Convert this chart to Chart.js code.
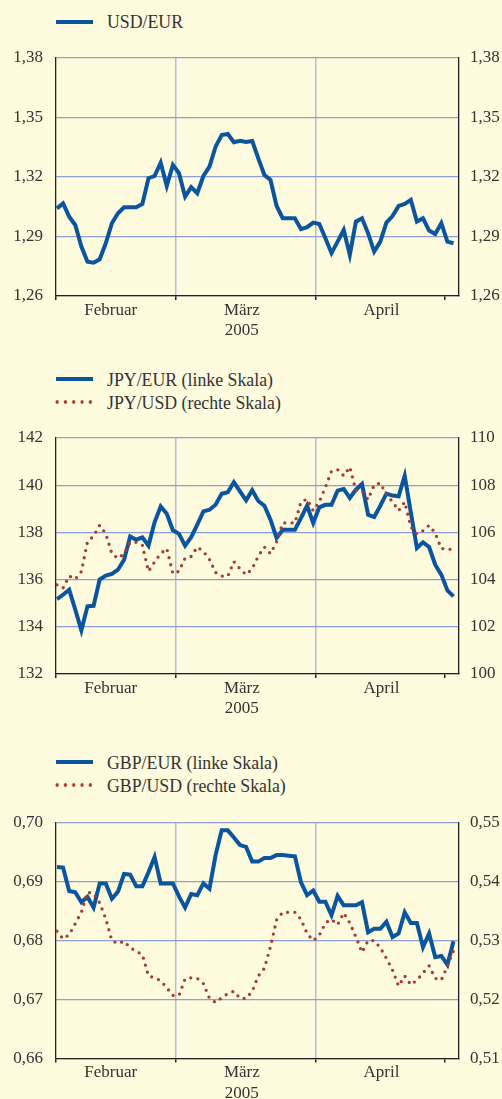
<!DOCTYPE html>
<html>
<head>
<meta charset="utf-8">
<script src="https://cdn.jsdelivr.net/npm/chart.js@4.4.1/dist/chart.umd.min.js"></script>
<style>
    body {
        margin: 0;
        width: 502px;
        height: 1099px;
        position: relative;
        overflow: hidden;
        background: #fffbde;
        font-family: 'Liberation Serif', serif;
        color: #333;
    }
    canvas { position: absolute; left: 0; }
    .key { position: absolute; left: 107px; height: 20px; line-height: 20px; font-size: 17.8px; white-space: nowrap; }
    .solid { position: absolute; left: 56px; width: 37px; height: 4px; background: #0b559e; }
    .dots {
        position: absolute; left: 53px; width: 41.5px; height: 4px;
        background-image: radial-gradient(circle, #a83a30 1.5px, rgba(168, 58, 48, 0) 2px);
        background-size: 8.3px 4px;
    }
</style>
</head>
<body>

<div class="solid" style="top:20px"></div>
<div class="key" style="top:12px">USD/EUR</div>

<div class="solid" style="top:376.5px"></div>
<div class="key" style="top:370px">JPY/EUR (linke Skala)</div>
<div class="dots" style="top:399.5px"></div>
<div class="key" style="top:392.5px">JPY/USD (rechte Skala)</div>

<div class="solid" style="top:760px"></div>
<div class="key" style="top:752.5px">GBP/EUR (linke Skala)</div>
<div class="dots" style="top:782.5px"></div>
<div class="key" style="top:775.5px">GBP/USD (rechte Skala)</div>

<canvas id="chart-usd" width="502" height="345" style="top:0"></canvas>
<canvas id="chart-jpy" width="502" height="380" style="top:345px"></canvas>
<canvas id="chart-gbp" width="502" height="374" style="top:725px"></canvas>

<script>
// Tageswerte, Werktage vom 1. Februar bis 3. Mai 2005 (Index 0 = 1. Februar)
const usdEur = [
    1.3042, 1.3067, 1.3000, 1.2958, 1.2849, 1.2773, 1.2768, 1.2785, 1.2866, 1.2967,
    1.3017, 1.3047, 1.3047, 1.3047, 1.3064, 1.3194, 1.3205, 1.3272, 1.3155, 1.3261,
    1.3219, 1.3101, 1.3149, 1.3118, 1.3205, 1.3252, 1.3353, 1.3412, 1.3417, 1.3375,
    1.3383, 1.3377, 1.3382, 1.3294, 1.3210, 1.3185, 1.3054, 1.2992, 1.2992, 1.2992,
    1.2937, 1.2947, 1.2970, 1.2963, 1.2891, 1.2816, 1.2874, 1.2933, 1.2807, 1.2975,
    1.2992, 1.2916, 1.2824, 1.2874, 1.2970, 1.3003, 1.3054, 1.3064, 1.3084, 1.2975,
    1.2992, 1.2930, 1.2913, 1.2967, 1.2874, 1.2866
]

const jpyEur = [
    135.17, 135.36, 135.57, 134.73, 133.85, 134.87, 134.89, 136.00, 136.17, 136.24,
    136.42, 136.84, 137.83, 137.69, 137.79, 137.44, 138.43, 139.10, 138.79, 138.09,
    137.94, 137.44, 137.80, 138.33, 138.89, 138.96, 139.17, 139.64, 139.70, 140.13,
    139.74, 139.36, 139.79, 139.33, 139.13, 138.54, 137.76, 138.11, 138.11, 138.11,
    138.61, 139.13, 138.40, 139.06, 139.17, 139.17, 139.77, 139.84, 139.46, 139.81,
    140.05, 138.75, 138.65, 139.13, 139.64, 139.56, 139.53, 140.40, 138.85, 137.34,
    137.58, 137.38, 136.63, 136.21, 135.54, 135.29
]

const jpyUsd = [
    103.78, 103.64, 104.15, 104.02, 104.34, 105.60, 105.85, 106.30, 105.95, 105.10,
    104.90, 105.10, 105.58, 105.58, 105.46, 104.35, 104.75, 105.10, 105.32, 104.25,
    104.35, 104.91, 104.98, 105.38, 105.20, 104.85, 104.30, 104.15, 104.14, 104.76,
    104.46, 104.21, 104.46, 105.00, 105.38, 105.10, 105.60, 106.40, 106.40, 106.40,
    107.30, 107.41, 106.92, 107.30, 107.91, 108.59, 108.66, 108.40, 108.77, 107.77,
    107.74, 107.39, 108.02, 108.09, 107.60, 107.30, 106.92, 107.29, 106.23, 105.93,
    106.07, 106.30, 105.97, 105.31, 105.31, 105.25
]

const gbpEur = [
    0.6925, 0.6924, 0.6884, 0.6882, 0.6865, 0.6874, 0.6856, 0.6897, 0.6897, 0.6871,
    0.6883, 0.6913, 0.6912, 0.6892, 0.6892, 0.6916, 0.6942, 0.6897, 0.6897, 0.6897,
    0.6875, 0.6856, 0.6879, 0.6877, 0.6897, 0.6888, 0.6945, 0.6987, 0.6987, 0.6975,
    0.6962, 0.6959, 0.6934, 0.6934, 0.6940, 0.6940, 0.6945, 0.6945, 0.6944, 0.6943,
    0.6899, 0.6877, 0.6885, 0.6866, 0.6866, 0.6843, 0.6876, 0.6860, 0.6860, 0.6860,
    0.6865, 0.6814, 0.6820, 0.6820, 0.6832, 0.6806, 0.6812, 0.6848, 0.6830, 0.6830,
    0.6789, 0.6812, 0.6772, 0.6774, 0.6759, 0.6799
]

const gbpUsd = [
    0.5316, 0.5303, 0.5310, 0.5329, 0.5348, 0.5382, 0.5380, 0.5364, 0.5337, 0.5300,
    0.5295, 0.5299, 0.5288, 0.5282, 0.5276, 0.5240, 0.5237, 0.5232, 0.5220, 0.5207,
    0.5207, 0.5235, 0.5237, 0.5236, 0.5227, 0.5202, 0.5195, 0.5203, 0.5210, 0.5214,
    0.5202, 0.5202, 0.5214, 0.5240, 0.5253, 0.5290, 0.5335, 0.5348, 0.5348, 0.5348,
    0.5336, 0.5312, 0.5300, 0.5309, 0.5330, 0.5336, 0.5327, 0.5347, 0.5330, 0.5306,
    0.5280, 0.5300, 0.5300, 0.5288, 0.5270, 0.5250, 0.5223, 0.5240, 0.5225, 0.5233,
    0.5245, 0.5257, 0.5236, 0.5233, 0.5257, 0.5283
]

const months = ['Februar', 'März', 'April']
const year = '2005'

const usdTicks = [1.26, 1.29, 1.32, 1.35, 1.38]
const jpyEurTicks = [132, 134, 136, 138, 140, 142]
const jpyUsdTicks = [100, 102, 104, 106, 108, 110]
const gbpEurTicks = [0.66, 0.67, 0.68, 0.69, 0.70]
const gbpUsdTicks = [0.51, 0.52, 0.53, 0.54, 0.55]

/****************************************************************************************************/

const BLUE = '#0b559e'
const RED = '#a83a30'
const NONE = 'rgba(0, 0, 0, 0)'

// x-Achse: Monatsgrenzen liegen zwischen dem letzten und ersten Werktag
const X_MIN = -0.16
const X_MAX = 65.9
const monthEnds = [19.5, 42.5, 63.5]
const monthMid = [8.8, 30.3, 53.2]

Chart.defaults.font.family = "'Liberation Serif', serif"
Chart.defaults.font.size = 17
Chart.defaults.color = '#333'

function points(values) {
    return values.map((v, i) => ({ x: i, y: v }))
}

function comma(v, digits) {
    return v.toFixed(digits).replace('.', ',')
}

function monthLabel(value) {
    let k = monthMid.indexOf(value)
    if (k < 0) return ''
    return k === 1 ? [months[k], year] : months[k]
}

function yAxis(position, ticks, digits, width, padding, withGrid) {
    return {
        position: position,
        min: ticks[0],
        max: ticks[ticks.length - 1],
        afterBuildTicks: s => { s.ticks = ticks.map(v => ({ value: v })) },
        afterFit: s => { s.width = width },
        ticks: {
            autoSkip: false,
            padding: padding,
            callback: v => comma(v, digits)
        },
        border: { display: true, color: '#222', width: 1.3 },
        grid: {
            display: withGrid,
            drawTicks: false,
            color: '#8c9fd7',
            lineWidth: 1.3
        }
    }
}

function panel(id, padTop, axisHeight, datasets, leftTicks, rightTicks, digits) {
    let xTicks = [X_MIN, monthMid[0], monthEnds[0], monthMid[1], monthEnds[1], monthMid[2], monthEnds[2]]

    new Chart(document.getElementById(id), {
        type: 'line',
        data: { datasets: datasets },
        options: {
            responsive: false,
            animation: false,
            devicePixelRatio: 1,
            layout: { padding: { top: padTop, left: 0, right: 0, bottom: 0 } },
            elements: {
                point: { radius: 0, hoverRadius: 0 },
                line: { tension: 0 }
            },
            scales: {
                x: {
                    type: 'linear',
                    min: X_MIN,
                    max: X_MAX,
                    afterBuildTicks: s => { s.ticks = xTicks.map(v => ({ value: v })) },
                    afterFit: s => { s.height = axisHeight },
                    ticks: {
                        autoSkip: false,
                        maxRotation: 0,
                        minRotation: 0,
                        padding: 0,
                        callback: v => monthLabel(v)
                    },
                    border: { display: true, color: '#222', width: 1.3 },
                    grid: {
                        lineWidth: 1.5,
                        tickLength: 4,
                        color: ctx => (ctx.tick && (ctx.tick.value === monthEnds[0] || ctx.tick.value === monthEnds[1])) ? '#b4bddd' : NONE,
                        tickColor: ctx => (ctx.tick && monthMid.indexOf(ctx.tick.value) < 0) ? '#222' : NONE
                    }
                },
                y: yAxis('left', leftTicks, digits, 56, 13, true),
                y1: yAxis('right', rightTicks, digits, 43, 11, false)
            },
            plugins: {
                legend: { display: false },
                tooltip: { enabled: false }
            }
        }
    })
}

function solidLine(values) {
    return {
        data: points(values),
        yAxisID: 'y',
        borderColor: BLUE,
        borderWidth: 4,
        order: 1
    }
}

function dottedLine(values) {
    return {
        data: points(values),
        yAxisID: 'y1',
        borderColor: RED,
        borderWidth: 3.3,
        borderDash: [0, 7.3],
        borderCapStyle: 'round',
        order: 0
    }
}

panel('chart-usd', 58, 49, [solidLine(usdEur)], usdTicks, usdTicks, 2)
panel('chart-jpy', 93, 51, [solidLine(jpyEur), dottedLine(jpyUsd)], jpyEurTicks, jpyUsdTicks, 0)
panel('chart-gbp', 97.7, 40.5, [solidLine(gbpEur), dottedLine(gbpUsd)], gbpEurTicks, gbpUsdTicks, 2)
</script>
</body>
</html>
